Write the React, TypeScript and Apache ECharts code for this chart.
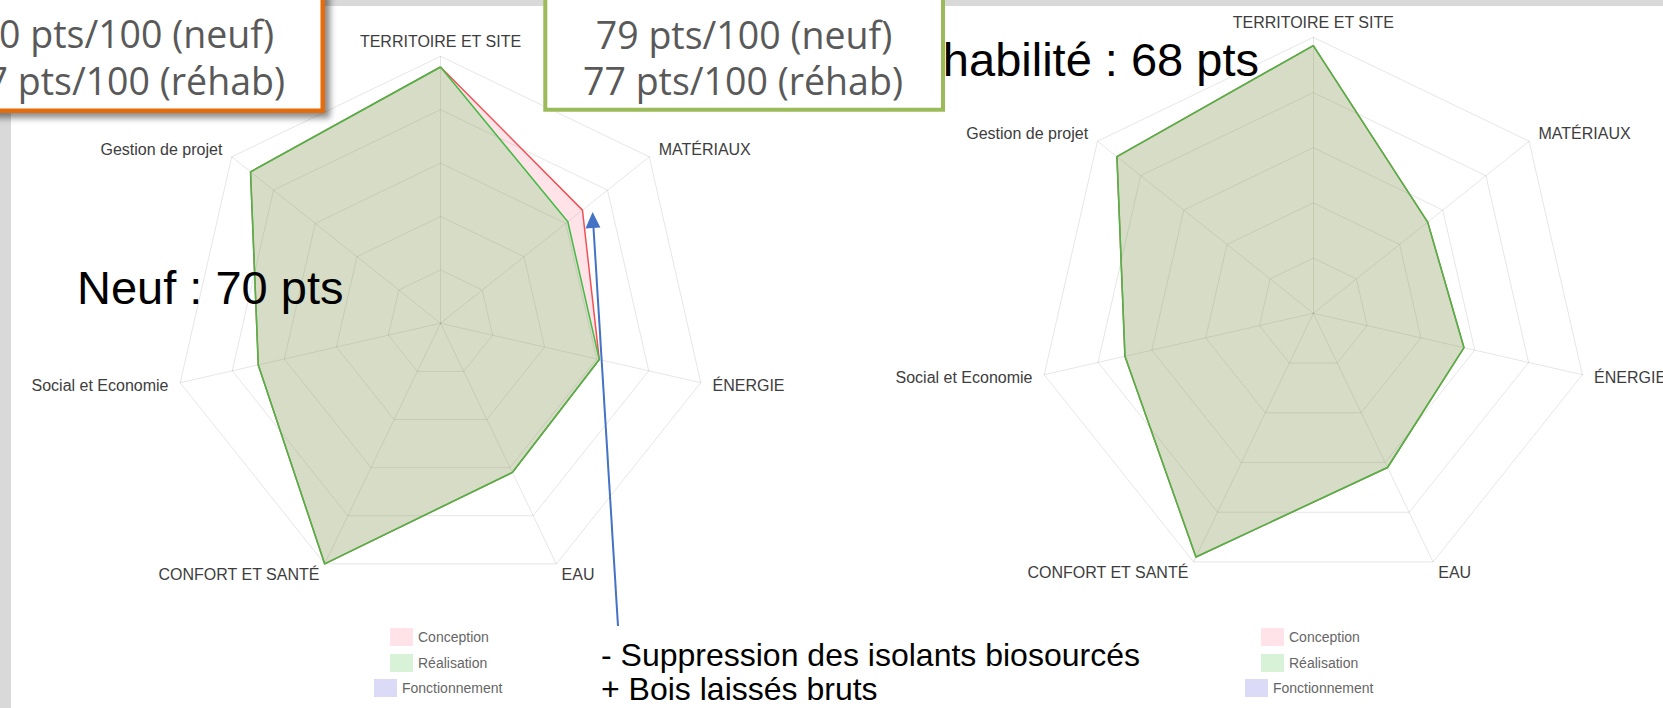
import React, { useEffect, useRef } from 'react';
import * as echarts from 'echarts';

// Axes in reading order, clockwise from the top
const CATEGORIES = ['TERRITOIRE ET SITE', 'MATÉRIAUX', 'ÉNERGIE', 'EAU', 'CONFORT ET SANTÉ', 'Social et Economie', 'Gestion de projet'];
const SERIES_NAMES = ['Conception', 'Réalisation', 'Fonctionnement'];
const AXIS_MAX = 100;

// Left chart (neuf)
const NEUF_CONCEPTION = [96, 68, 61, 62, 100, 70, 91];
const NEUF_REALISATION = [96, 61, 61, 62, 100, 70, 91];
const NEUF_FONCTIONNEMENT = [0, 0, 0, 0, 0, 0, 0];

// Right chart (réhabilitation)
const REHAB_CONCEPTION = [97, 53, 56, 62, 98, 70, 91];
const REHAB_REALISATION = [97, 53, 56, 62, 98, 70, 91];
const REHAB_FONCTIONNEMENT = [0, 0, 0, 0, 0, 0, 0];

const LINE_COLORS = ['#f05050', '#45b945', '#7a7ae0'];
const FILL_COLORS = ['rgba(255,99,132,0.18)', 'rgba(75,195,75,0.22)', 'rgba(75,75,220,0.2)'];

// ECharts lays indicators counter-clockwise: reorder from clockwise reading order
const ccw = (arr: any[]) => [arr[0], arr[6], arr[5], arr[4], arr[3], arr[2], arr[1]];

export default function App() {
  const ref = useRef<HTMLDivElement>(null);

  useEffect(() => {
    document.body.style.margin = '0';
    const chart = echarts.init(ref.current!, undefined, { renderer: 'svg' });

    const indicator = ccw(CATEGORIES).map((name) => ({ name, max: AXIS_MAX, min: 0 }));
    const gridLine = { lineStyle: { color: 'rgba(0,0,0,0.1)', width: 1 } };
    const radarBase = {
      startAngle: 90,
      splitNumber: 5,
      shape: 'polygon',
      indicator,
      nameGap: 12,
      axisName: { color: '#3d3d3d', fontSize: 16, fontFamily: 'Liberation Sans', lineHeight: 5 },
      axisLine: gridLine,
      splitLine: gridLine,
      splitArea: { show: false },
      axisTick: { show: false },
      axisLabel: { show: false },
    };

    const mkData = (sets: number[][]) =>
      sets.map((vals, i) => ({
        name: SERIES_NAMES[i],
        value: ccw(vals),
        lineStyle: { color: LINE_COLORS[i], width: 1.5 },
        itemStyle: { color: LINE_COLORS[i] },
        areaStyle: { color: FILL_COLORS[i], opacity: 1 },
      }));

    const legendPos = [
      [390, 628],
      [390, 654],
      [374, 679],
    ];
    const legends: any[] = [];
    [0, 871].forEach((off) => {
      SERIES_NAMES.forEach((name, i) => {
        legends.push({
          left: legendPos[i][0] + off,
          top: legendPos[i][1],
          padding: 0,
          orient: 'vertical',
          icon: 'rect',
          itemWidth: 23,
          itemHeight: 18,
          itemStyle: { borderWidth: 0 },
          data: [{ name, itemStyle: { color: FILL_COLORS[i], borderWidth: 0 } }],
          textStyle: { color: '#666', fontSize: 14, fontFamily: 'Liberation Sans' },
        });
      });
    });

    const boxFont = { fontSize: 37.5, fontFamily: 'Open Sans', fill: '#595959' };
    const bigFont = { fontSize: 47, fontFamily: 'Liberation Sans', fill: '#000' };
    const noteFont = { fontSize: 32, fontFamily: 'Liberation Sans', fill: '#000' };

    chart.setOption({
      animation: false,
      backgroundColor: '#ffffff',
      legend: legends,
      radar: [
        { ...radarBase, center: [440.5, 323.3], radius: 267 },
        { ...radarBase, center: [1313.3, 313.3], radius: 276 },
      ],
      series: [
        { type: 'radar', radarIndex: 0, symbol: 'none', data: mkData([NEUF_CONCEPTION, NEUF_REALISATION, NEUF_FONCTIONNEMENT]) },
        { type: 'radar', radarIndex: 1, symbol: 'none', data: mkData([REHAB_CONCEPTION, REHAB_REALISATION, REHAB_FONCTIONNEMENT]) },
      ],
      graphic: [
        { type: 'rect', z: 100, shape: { x: 0, y: 0, width: 11, height: 708 }, style: { fill: '#d9d9d9' } },
        { type: 'rect', z: 100, shape: { x: 0, y: 0, width: 1663, height: 6 }, style: { fill: '#d9d9d9' } },
        {
          type: 'text', z: 100, x: 77, y: 287,
          style: { text: 'Neuf : 70 pts', ...bigFont, textAlign: 'left', textVerticalAlign: 'middle', align: 'left', verticalAlign: 'middle' },
        },
        {
          type: 'text', z: 100, x: 1259, y: 59,
          style: { text: 'Réhabilité : 68 pts', ...bigFont, textAlign: 'right', textVerticalAlign: 'middle', align: 'right', verticalAlign: 'middle' },
        },
        {
          type: 'rect', z: 101, shape: { x: -20, y: -20, width: 342.75, height: 130.75 },
          style: { fill: '#ffffff', stroke: '#e46c0a', lineWidth: 4.5, shadowBlur: 6, shadowOffsetX: 5, shadowOffsetY: 5, shadowColor: 'rgba(0,0,0,0.45)' },
        },
        {
          type: 'text', z: 102, x: 274, y: 33,
          style: { text: '0 pts/100 (neuf)', ...boxFont, textAlign: 'right', textVerticalAlign: 'middle', align: 'right', verticalAlign: 'middle' },
        },
        {
          type: 'text', z: 102, x: 285, y: 80.5,
          style: { text: '7 pts/100 (réhab)', ...boxFont, textAlign: 'right', textVerticalAlign: 'middle', align: 'right', verticalAlign: 'middle' },
        },
        {
          type: 'rect', z: 101, shape: { x: 545.3, y: -20, width: 397.7, height: 129.7 },
          style: { fill: '#ffffff', stroke: '#9bbb59', lineWidth: 4 },
        },
        {
          type: 'text', z: 102, x: 744, y: 34.3,
          style: { text: '79 pts/100 (neuf)', ...boxFont, textAlign: 'center', textVerticalAlign: 'middle', align: 'center', verticalAlign: 'middle' },
        },
        {
          type: 'text', z: 102, x: 743, y: 80,
          style: { text: '77 pts/100 (réhab)', ...boxFont, textAlign: 'center', textVerticalAlign: 'middle', align: 'center', verticalAlign: 'middle' },
        },
        { type: 'line', z: 100, shape: { x1: 618, y1: 626, x2: 593.4, y2: 226 }, style: { stroke: '#4472c4', lineWidth: 2 } },
        { type: 'polygon', z: 100, shape: { points: [[592.6, 212], [585.4, 228.5], [600.4, 227.5]] }, style: { fill: '#4472c4' } },
        {
          type: 'text', z: 100, x: 601, y: 655,
          style: { text: '- Suppression des isolants biosourcés', ...noteFont, textAlign: 'left', textVerticalAlign: 'middle', align: 'left', verticalAlign: 'middle' },
        },
        {
          type: 'text', z: 100, x: 601, y: 689,
          style: { text: '+ Bois laissés bruts', ...noteFont, textAlign: 'left', textVerticalAlign: 'middle', align: 'left', verticalAlign: 'middle' },
        },
      ],
    });

    return () => chart.dispose();
  }, []);

  return <div ref={ref} style={{ width: 1663, height: 708 }} />;
}
